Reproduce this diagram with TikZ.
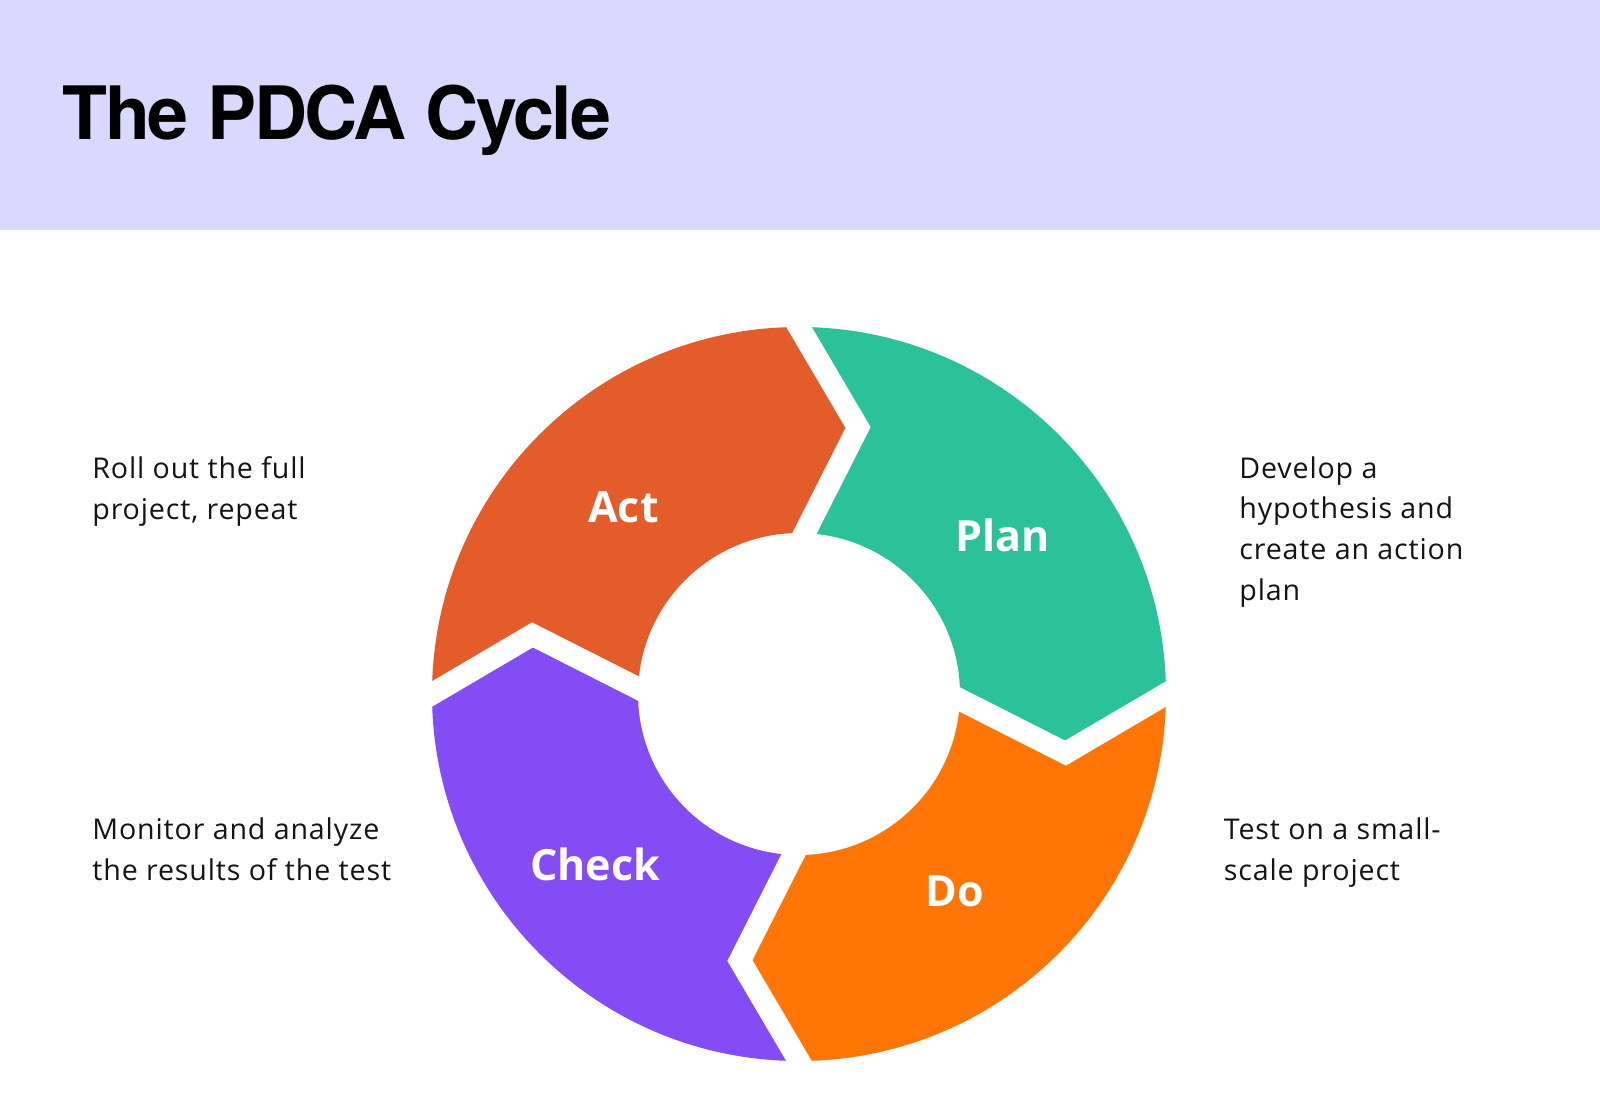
\documentclass[tikz,border=0pt]{standalone}
\usepackage{fontspec}
\setmainfont{Open Sans}
\newfontfamily\titlefont[LetterSpace=-3]{TeX Gyre Heros}
\newfontfamily\bodyfont[LetterSpace=3]{Open Sans}
\newfontfamily\labelfont{Open Sans}
\usetikzlibrary{calc}
\definecolor{hdr}{RGB}{217,217,255}
\definecolor{actcol}{RGB}{229,92,43}
\definecolor{plancol}{RGB}{42,193,155}
\definecolor{docol}{RGB}{255,118,7}
\definecolor{checkcol}{RGB}{131,76,245}
\definecolor{ink}{RGB}{20,20,20}
\begin{document}
\begin{tikzpicture}[x=0.5pt,y=0.5pt,
  bodytext/.style={anchor=base west, inner sep=0pt, text=ink, font=\bodyfont\fontsize{14.3}{17}\selectfont},
  seglabel/.style={inner sep=0pt, text=white, font=\labelfont\bfseries\fontsize{21.5}{24}\selectfont},
  gapline/.style={draw=white, line width=11pt, line join=miter, miter limit=10}]
\useasboundingbox (0,0) rectangle (1600,1115);
\fill[white] (0,0) rectangle (1600,1115);
\fill[hdr] (0,884.5) rectangle (1600,1115);
\node[anchor=base west, inner sep=0pt, text=black, font=\titlefont\bfseries\fontsize{36.8}{40}\selectfont] (title) at (62,975) {The PDCA Cycle};

\begin{scope}[shift={(799,421)}]
  \foreach \a/\c in {90/plancol,0/docol,-90/checkcol,180/actcol}{
    \fill[\c] (\a:367) arc[start angle=\a, end angle=\a-90, radius=183.5pt]
      -- (\a-102.5:273) -- (\a-92:161)
      arc[start angle=\a-92, end angle=\a-2, radius=80.5pt]
      -- (\a-12.5:273) -- cycle;
  }
  \foreach \a in {90,0,-90,180}{
    \draw[gapline] ($(\a-12.5:273)!1.5!(\a:367)$) -- (\a-12.5:273) -- ($(\a-12.5:273)!1.3!(\a-2:161)$);
  }
\end{scope}

\node[seglabel] (act) at (623.5,608) {Act};
\node[seglabel] (plan) at (1003,580) {Plan};
\node[seglabel] (check) at (595,251) {Check};
\node[seglabel] (do) at (955,224) {Do};

\node[bodytext] (a1) at (92,636.4) {Roll out the full};
\node[bodytext] (a2) at (92,595.6) {project, repeat};
\node[bodytext] (c1) at (92,275.7) {Monitor and analyze};
\node[bodytext] (c2) at (92,234.9) {the results of the test};
\node[bodytext] (p1) at (1239,636.9) {Develop a};
\node[bodytext] (p2) at (1239,596.1) {hypothesis and};
\node[bodytext] (p3) at (1239,555.3) {create an action};
\node[bodytext] (p4) at (1239,514.5) {plan};
\node[bodytext] (d1) at (1223.5,275.7) {Test on a small-};
\node[bodytext] (d2) at (1223.5,234.9) {scale project};
\end{tikzpicture}
\end{document}
